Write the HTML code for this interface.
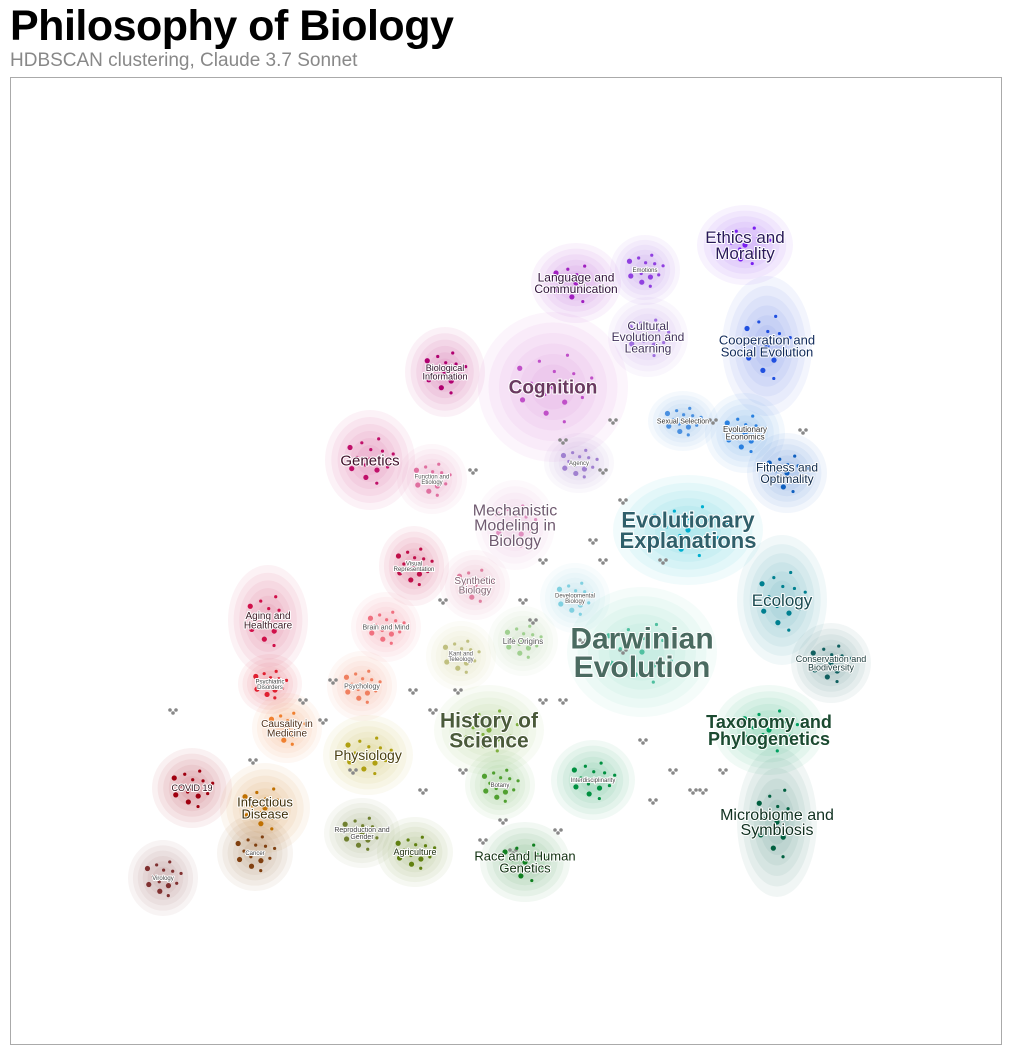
<!DOCTYPE html>
<html><head><meta charset="utf-8">
<style>
body{margin:0;background:#fff;width:1011px;height:1054px;overflow:hidden;font-family:"Liberation Sans",sans-serif}
#title{position:absolute;left:10px;top:2px;font-size:43px;font-weight:bold;color:#000;letter-spacing:-0.5px}
#sub{position:absolute;left:10px;top:50px;font-size:19px;color:#888}
svg{position:absolute;left:0;top:0}
text{font-family:"Liberation Sans",sans-serif;paint-order:stroke;stroke:#fff;stroke-width:2px;stroke-linejoin:round;text-anchor:middle}
</style></head><body>
<div id="title">Philosophy of Biology</div>
<div id="sub">HDBSCAN clustering, Claude 3.7 Sonnet</div>
<svg id="chart" width="1011" height="1054">
<rect x="10.5" y="77.5" width="991" height="967" fill="none" stroke="#aaa"/>
<g id="blobs"></g><g id="gray"></g><g id="dots"></g><g id="labels"></g>
</svg>
<script>
const names=["Ethics and\nMorality","Emotions","Language and\nCommunication","Cultural\nEvolution and\nLearning","Cooperation and\nSocial Evolution","Biological\nInformation","Cognition","Sexual Selection","Evolutionary\nEconomics","Genetics","Function and\nEtiology","Agency","Fitness and\nOptimality","Mechanistic\nModeling in\nBiology","Evolutionary\nExplanations","Visual\nRepresentation","Synthetic\nBiology","Developmental\nBiology","Ecology","Aging and\nHealthcare","Brain and Mind","Life Origins","Kant and\nTeleology","Darwinian\nEvolution","Conservation and\nBiodiversity","Psychiatric\nDisorders","Psychology","History of\nScience","Taxonomy and\nPhylogenetics","Causality in\nMedicine","Physiology","COVID 19","Botany","Interdisciplinarity","Infectious\nDisease","Microbiome and\nSymbiosis","Reproduction and\nGender","Agriculture","Cancer","Race and Human\nGenetics","Virology"];
const cx=[745,645,576,648,767,445,553,683,745,370,432,579,787,515,688,414,475,575,782,268,386,523,461,642,831,270,362,489,769,287,368,192,500,593,265,777,362,415,255,525,163];
const cy=[245,270,283,337,346,372,387,421,433,460,479,463,473,525,530,566,585,598,600,620,627,641,656,652,663,684,686,730,730,728,755,788,785,780,808,822,833,852,853,862,878];
const rx=[48,35,45,40,45,40,75,35,40,45,35,35,40,40,75,35,35,35,45,40,35,35,35,75,40,32,35,55,55,35,45,40,35,42,45,40,38,38,38,45,35];
const ry=[40,35,40,40,70,45,75,30,40,50,35,30,40,45,55,40,35,35,65,55,35,35,35,65,40,30,35,45,45,35,40,40,35,40,45,75,35,35,38,40,38];
const colors=["#7a20f0","#9040e0","#a020c0","#a070e0","#2050e0","#b00070","#c050c8","#4a90e0","#2a80e0","#c0106a","#e070a0","#a080d0","#1060c0","#e090c0","#00b0d0","#c0104a","#e080a0","#80d0e0","#008090","#d0104a","#f07080","#a0d090","#c0c080","#50c0a0","#106060","#e02030","#f08060","#80b040","#00a060","#f08030","#b0a010","#a00010","#50a030","#009040","#c07000","#006040","#708030","#608010","#804010","#108020","#803030"];
const fsize=[17,6,12,12,13,9,19,7,8,15,6,6,12,16,22,6,10,6,17,10,7,8,6,30,9,6,7,21,18,10,14,9,6,6,13,16,7,9,6,13,6];
const lcol=["#2a1a5a","#444","#30103a","#40305a","#102a5a","#30102a","#6a3a60","#333","#333","#40102a","#555","#555","#102a4a","#705a70","#2f5f6a","#444","#806070","#555","#1a4a50","#40202a","#555","#555","#555","#4a6a60","#1a3a3a","#444","#555","#4a5a3a","#1a4a30","#50301a","#4a4010","#30101a","#444","#444","#40300a","#103020","#444","#203010","#444","#103010","#444"];
const bold=[0,0,0,0,0,0,1,0,0,0,0,0,0,0,1,0,0,0,0,0,0,0,0,1,0,0,0,1,1,0,0,0,0,0,0,0,0,0,0,0,0];
const grayX=[560,600,620,540,590,530,610,470,440,330,300,320,410,420,460,500,555,650,690,720,710,170,250,350,480,560,640,670,700,740,800,600,520,455,430,620,660,580,540,510];
const grayY=[440,470,500,560,540,620,420,470,600,680,700,720,690,790,770,820,830,800,790,770,420,710,760,770,840,700,740,770,790,720,430,560,600,690,710,650,560,640,700,850];
const NS="http://www.w3.org/2000/svg";
const bl=document.getElementById('blobs'),dl=document.getElementById('dots'),ll=document.getElementById('labels'),gl=document.getElementById('gray');
for(let i=0;i<names.length;i++){
 for(let k=0;k<6;k++){
  const e=document.createElementNS(NS,'ellipse');
  const s=1-k*0.14;
  e.setAttribute('cx',cx[i]);e.setAttribute('cy',cy[i]);
  e.setAttribute('rx',rx[i]*s);e.setAttribute('ry',ry[i]*s);
  e.setAttribute('fill',colors[i]);e.setAttribute('fill-opacity',0.055);
  
  
  bl.appendChild(e);
 }
 for(let k=0;k<14;k++){
  const a=k*2.399,r=Math.sqrt(k/14);
  const c=document.createElementNS(NS,'circle');
  c.setAttribute('cx',cx[i]+Math.cos(a)*r*rx[i]*0.55);
  c.setAttribute('cy',cy[i]+Math.sin(a)*r*ry[i]*0.55);
  c.setAttribute('r',k%3?1.6:2.6);c.setAttribute('fill',colors[i]);
  
  
  dl.appendChild(c);
 }
 const t=document.createElementNS(NS,'text');
 const lines=names[i].split('\n');
 const lh=fsize[i]*0.95;
 lines.forEach((ln,j)=>{const sp=document.createElementNS(NS,'tspan');sp.setAttribute('x',cx[i]);sp.setAttribute('y',cy[i]+fsize[i]*0.35+(j-(lines.length-1)/2)*lh);sp.textContent=ln;t.appendChild(sp);});
 t.setAttribute('font-size',fsize[i]);t.setAttribute('fill',lcol[i]);
 if(bold[i])t.setAttribute('font-weight','bold');
 if(fsize[i]<8)t.setAttribute('stroke-width','1');
 
 
 ll.appendChild(t);
}
for(let i=0;i<grayX.length;i++){
 for(let k=0;k<3;k++){
 const c=document.createElementNS(NS,'circle');
 c.setAttribute('cx',grayX[i]+k*3);c.setAttribute('cy',grayY[i]+(k%2)*3);c.setAttribute('r',1.8);c.setAttribute('fill','#888');
 
 
 gl.appendChild(c);}
}
</script>
</body></html>
